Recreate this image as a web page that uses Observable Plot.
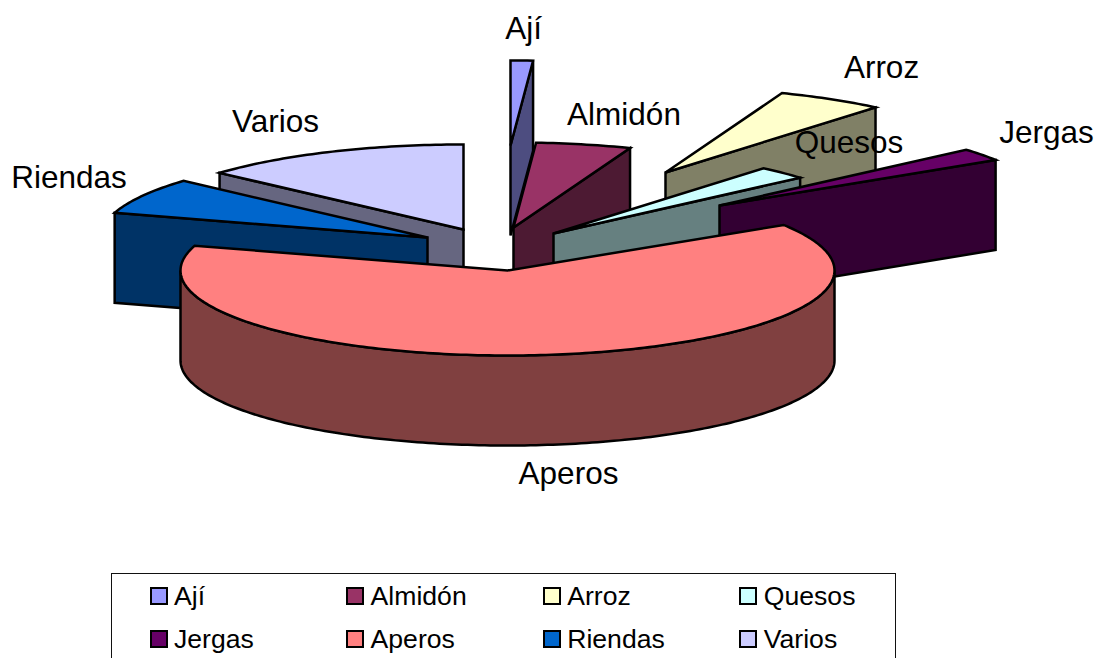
<!DOCTYPE html>
<html>
<head>
<meta charset="utf-8">
<script src="https://cdn.jsdelivr.net/npm/d3@7"></script>
<script src="https://cdn.jsdelivr.net/npm/@observablehq/plot@0.6"></script>
<style>
html,body{margin:0;padding:0;background:#fff;overflow:hidden}
#wrap{width:1097px;height:658px;position:relative;overflow:hidden}
#wrap svg{display:block;background:#fff}
#legend{position:absolute;left:111px;top:573px;width:785px;height:85px;border:1.5px solid #111;border-bottom:none;box-sizing:border-box;font-family:"Liberation Sans",Arial,sans-serif;font-size:26.6px;color:#000}
.item{position:absolute;display:flex;align-items:center;height:30px;line-height:30px;white-space:nowrap}
.sw{width:14px;height:14px;border:2.5px solid #000;margin-right:6.5px;box-sizing:content-box;flex:none}
</style>
</head>
<body>
<div id="wrap"></div>
<script>
// Data
const categories = ["Ají","Almidón","Arroz","Quesos","Jergas","Aperos","Riendas","Varios"];
const shares     = [1.1,4.7,5.3,2.5,2.4,63.7,6.9,13.4];

// Styles
const topColors  = ["#9999FF","#993366","#FFFFCC","#CCFFFF","#660066","#FF8080","#0066CC","#CCCCFF"];
const sideColors = ["#4D4D80","#4D1A33","#808066","#668080","#330033","#804040","#003366","#666680"];

// Layout: pie geometry, per-slice explosion, label anchors
const cx = 507, cy = 270, rx = 327, ry = 85, depth = 90;
const explodeX = [3,6,158,46,212,0,-80,-44];
const explodeY = [-125,-43,-98,-37,-65,0,-33,-41];
const labelX = [523,623.5,881,848.5,1046,568,68.5,275];
const labelY = [28,114,67,142,132,473,177,121];
const paintOrder = [0,1,2,3,4,7,6,5];

const total = d3.sum(shares);
let cursor = 90;
const slices = categories.map((name,i)=>{
  const span = shares[i]/total*360;
  const s = {name,i,hi:cursor,lo:cursor-span,ox:cx+explodeX[i],oy:cy+explodeY[i]};
  cursor -= span;
  return s;
});
const rad = a => a*Math.PI/180;
const rim = (s,a,dz=0) => ({x:s.ox+rx*Math.cos(rad(a)), y:s.oy-ry*Math.sin(rad(a))+dz});
const arc = (s,from,to,dz=0) => {
  const n = Math.max(1,Math.ceil(Math.abs(from-to)));
  return d3.range(n+1).map(k=>rim(s,from+(to-from)*k/n,dz));
};
const poly = (pts,fill) => Plot.line(pts,{x:"x",y:"y",curve:"linear-closed",fill,stroke:"#000",strokeWidth:2.5,strokeLinejoin:"miter",strokeMiterlimit:4});

const marks = [];
for (const idx of paintOrder){
  const s = slices[idx];
  const apex = {x:s.ox,y:s.oy};
  const apexLow = {x:s.ox,y:s.oy+depth};
  const mid = (s.hi+s.lo)/2;
  if (Math.sin(rad(mid))>0){
    const edge = Math.cos(rad(mid))>0 ? s.lo : s.hi;
    marks.push(poly([apex,rim(s,edge),rim(s,edge,depth),apexLow],sideColors[idx]));
  }
  const from = Math.min(s.hi,0), to = Math.max(s.lo,-180);
  if (from>to){
    marks.push(poly([...arc(s,from,to),...arc(s,to,from,depth)],sideColors[idx]));
  }
  marks.push(poly([apex,...arc(s,s.hi,s.lo)],topColors[idx]));
}
const labels = categories.map((name,i)=>({name,x:labelX[i],y:labelY[i]}));
marks.push(Plot.text(labels,{x:"x",y:"y",text:"name",fontSize:31.5,fill:"#000",textAnchor:"middle",lineAnchor:"middle",fontFamily:"'Liberation Sans',Arial,sans-serif"}));

const chart = Plot.plot({
  width:1097,height:573,margin:0,
  x:{domain:[0,1097],range:[0,1097],axis:null},
  y:{domain:[0,573],range:[0,573],axis:null},
  marks
});
const wrap = document.getElementById("wrap");
wrap.appendChild(chart);

const legend = document.createElement("div");
legend.id = "legend";
categories.forEach((name,i)=>{
  const item = document.createElement("div");
  item.className = "item";
  item.style.left = (37.5+(i%4)*196.6)+"px";
  item.style.top = (7+Math.floor(i/4)*43)+"px";
  const sw = document.createElement("span");
  sw.className = "sw";
  sw.style.background = topColors[i];
  item.appendChild(sw);
  item.appendChild(document.createTextNode(name));
  legend.appendChild(item);
});
wrap.appendChild(legend);
</script>
</body>
</html>
